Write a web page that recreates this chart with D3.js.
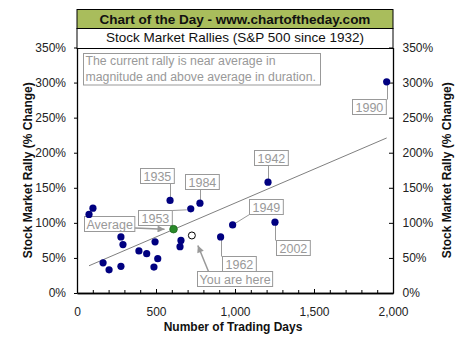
<!DOCTYPE html>
<html>
<head>
<meta charset="utf-8">
<script src="https://cdn.jsdelivr.net/npm/d3@7"></script>
<style>
  html, body { margin: 0; padding: 0; background: #fff; }
  svg { display: block; font-family: Arial, "Liberation Sans", sans-serif; }
</style>
</head>
<body>
<svg id="chart" width="476" height="340"></svg>
<script>
// ---- data ----
const rallyDays = [76, 101, 278, 291, 165, 203, 278, 392, 441, 494, 511, 487, 589, 658, 652, 720, 778, 909, 985, 1209, 1253, 1960];
const rallyGain = [112, 121, 80, 69, 43, 33, 38, 60, 56, 73, 49, 37, 132, 75, 66, 120, 128, 80, 97, 158, 101, 301];
const rallyYear = ["", "", "", "", "", "", "", "", "", "", "", "", "1935", "", "", "1953", "1984", "1962", "1949", "1942", "2002", "1990"];
const averagePoint = [611, 91];
const currentPoint = [727, 82];
const trendIntercept = 31.5;
const trendSlope = 0.0967;
const xTicks = [0, 500, 1000, 1500, 2000];
const yTicks = [0, 50, 100, 150, 200, 250, 300, 350];
const titleText = "Chart of the Day - www.chartoftheday.com";
const subtitleText = "Stock Market Rallies (S&P 500 since 1932)";
const noteLines = ["The current rally is near average in", "magnitude and above average in duration."];
const xTitle = "Number of Trading Days";
const yTitle = "Stock Market Rally (% Change)";

// ---- layout ----
const svg = d3.select("#chart");
const L = 77, R = 393, T = 47.5, B = 293;
const x = d3.scaleLinear().domain([0, 2000]).range([L, R]);
const y = d3.scaleLinear().domain([0, 350]).range([B, T]);
const gray = "#999999";
const font = "Arial, 'Liberation Sans', sans-serif";

svg.append("defs").append("marker")
  .attr("id", "arrow").attr("viewBox", "0 0 10 10")
  .attr("refX", 10).attr("refY", 5)
  .attr("markerWidth", 9).attr("markerHeight", 7)
  .attr("markerUnits", "userSpaceOnUse")
  .attr("orient", "auto")
  .append("path").attr("d", "M0,0L10,5L0,10Z").attr("fill", gray);

// header
svg.append("rect").attr("x", L).attr("y", 9.5).attr("width", R - L).attr("height", 19)
  .attr("fill", "#a9bd5c").attr("stroke", "#000").attr("stroke-width", 1);
svg.append("rect").attr("x", L).attr("y", 28.5).attr("width", R - L).attr("height", 20)
  .attr("fill", "#fff").attr("stroke", "#000").attr("stroke-width", 1);
svg.append("text").attr("x", (L + R) / 2).attr("y", 23.5).attr("text-anchor", "middle")
  .attr("font-size", 13.5).attr("font-weight", "bold").attr("fill", "#111").text(titleText);
svg.append("text").attr("x", (L + R) / 2).attr("y", 42).attr("text-anchor", "middle")
  .attr("font-size", 13.5).attr("fill", "#111").text(subtitleText);

// note box
const noteG = svg.append("g");
noteG.append("rect").attr("x", 83.5).attr("y", 53.5).attr("width", 237).attr("height", 31.5)
  .attr("fill", "#fff").attr("stroke", gray);
noteLines.forEach((t, i) => {
  noteG.append("text").attr("x", 85.5).attr("y", 65 + i * 16).attr("font-size", 12.3)
    .attr("fill", gray).text(t);
});

// trend line
const xMin = d3.min(rallyDays), xMax = d3.max(rallyDays);
svg.append("line")
  .attr("x1", x(xMin)).attr("y1", y(trendIntercept + trendSlope * xMin))
  .attr("x2", x(xMax)).attr("y2", y(trendIntercept + trendSlope * xMax))
  .attr("stroke", "#808080").attr("stroke-width", 1);

// axes
const axisStyle = g => {
  g.selectAll("path.domain").attr("stroke", "#000").attr("stroke-width", 1.3);
  g.selectAll(".tick line").attr("stroke", "#000");
  g.selectAll("text").attr("font-size", 12).attr("fill", "#222").attr("font-family", font);
};
svg.append("g").attr("transform", `translate(${L},0)`)
  .call(d3.axisLeft(y).tickValues(yTicks).tickSizeInner(3).tickSizeOuter(0).tickPadding(8).tickFormat(d => d + "%"))
  .call(axisStyle);
svg.append("g").attr("transform", `translate(${R},0)`)
  .call(d3.axisRight(y).tickValues(yTicks).tickSizeInner(-4).tickSizeOuter(0).tickPadding(9.5).tickFormat(d => d + "%"))
  .call(axisStyle);
svg.append("g").attr("transform", `translate(0,${B})`)
  .call(d3.axisBottom(x).tickValues(d3.range(0, 2001, 100)).tickSizeInner(-3).tickSizeOuter(0).tickFormat(""))
  .call(axisStyle);
svg.append("g").attr("transform", `translate(0,${B})`)
  .call(d3.axisBottom(x).tickValues(xTicks).tickSizeInner(-4).tickSizeOuter(0).tickPadding(14).tickFormat(d3.format(",")))
  .call(axisStyle);

// axis titles
svg.append("text").attr("transform", `translate(31.5,${(T + B) / 2}) rotate(-90)`)
  .attr("text-anchor", "middle").attr("font-size", 12).attr("font-weight", "bold").attr("fill", "#111").text(yTitle);
svg.append("text").attr("transform", `translate(451,${(T + B) / 2}) rotate(-90)`)
  .attr("text-anchor", "middle").attr("font-size", 12).attr("font-weight", "bold").attr("fill", "#111").text(yTitle);
svg.append("text").attr("x", 233).attr("y", 331).attr("text-anchor", "middle")
  .attr("font-size", 12).attr("font-weight", "bold").attr("fill", "#111").text(xTitle);

// label boxes (layout offsets relative to the point, in pixels)
const labelLayout = {
  "1935": { bx: -30, by: -32, leader: "vertical" },
  "1984": { bx: -15, by: -29.5, leader: "vertical" },
  "1942": { bx: -14.5, by: -31.7, leader: "vertical" },
  "1990": { bx: -34.5, by: 17.3, leader: "vertical" },
  "2002": { bx: 0.7, by: 17.6, leader: "vertical" },
  "1962": { bx: 1, by: 19, leader: "vertical" },
  "1949": { bx: 16.3, by: -26, leader: "bottomLeft" },
  "1953": { bx: -53.1, by: 1.5, leader: "topRight" }
};
const labelG = svg.append("g");
const boxH = 15;
function drawBox(bxL, byT, text, padX) {
  const t = labelG.append("text").attr("x", bxL + padX).attr("y", byT + 12)
    .attr("font-size", 12.5).attr("fill", gray).text(text);
  const w = t.node().getComputedTextLength() + padX * 2;
  labelG.insert("rect", "text").attr("x", bxL).attr("y", byT).attr("width", w).attr("height", boxH)
    .attr("fill", "#fff").attr("stroke", gray);
  return w;
}
rallyYear.forEach((yr, i) => {
  if (!yr) return;
  const lay = labelLayout[yr];
  const px = x(rallyDays[i]), py = y(rallyGain[i]);
  const bl = Math.round(px + lay.bx) + 0.5, bt = Math.round(py + lay.by) + 0.5;
  const w = drawBox(bl, bt, yr, 3);
  let x1 = px, y1 = py, x2, y2;
  if (lay.leader === "vertical") {
    x1 = x2 = Math.round(px) + 0.5;
    y2 = bt > py ? bt : bt + boxH;
  } else if (lay.leader === "bottomLeft") {
    x2 = bl; y2 = bt + boxH;
  } else {
    x2 = bl + w; y2 = bt; x1 = px - 4; y1 = py + 1;
  }
  labelG.insert("line", "rect").attr("x1", x1).attr("y1", y1).attr("x2", x2).attr("y2", y2)
    .attr("stroke", gray).attr("stroke-width", 1);
});

// Average label + arrow
const ax = x(averagePoint[0]), ay = y(averagePoint[1]);
const aw = drawBox(84.5, 216.5, "Average", 2);
svg.append("line").attr("x1", 84.5 + aw).attr("y1", 228).attr("x2", ax - 9).attr("y2", ay)
  .attr("stroke", gray).attr("stroke-width", 1.5).attr("marker-end", "url(#arrow)");

// You are here label + arrow
const cx = x(currentPoint[0]), cy = y(currentPoint[1]);
drawBox(197.5, 271.5, "You are here", 2);
svg.append("line").attr("x1", 208.5).attr("y1", 271.5).attr("x2", cx + 6).attr("y2", cy + 10)
  .attr("stroke", gray).attr("stroke-width", 1.5).attr("marker-end", "url(#arrow)");

// points
svg.append("g").selectAll("circle").data(rallyDays).join("circle")
  .attr("cx", (d) => x(d)).attr("cy", (d, i) => y(rallyGain[i])).attr("r", 3.6)
  .attr("fill", "#000080");
svg.append("circle").attr("cx", ax).attr("cy", ay).attr("r", 3.8)
  .attr("fill", "#2a8a2a").attr("stroke", "#1f6b1f").attr("stroke-width", 0.8);
svg.append("circle").attr("cx", cx).attr("cy", cy).attr("r", 3.5)
  .attr("fill", "#fff").attr("stroke", "#000").attr("stroke-width", 1);
</script>
</body>
</html>
